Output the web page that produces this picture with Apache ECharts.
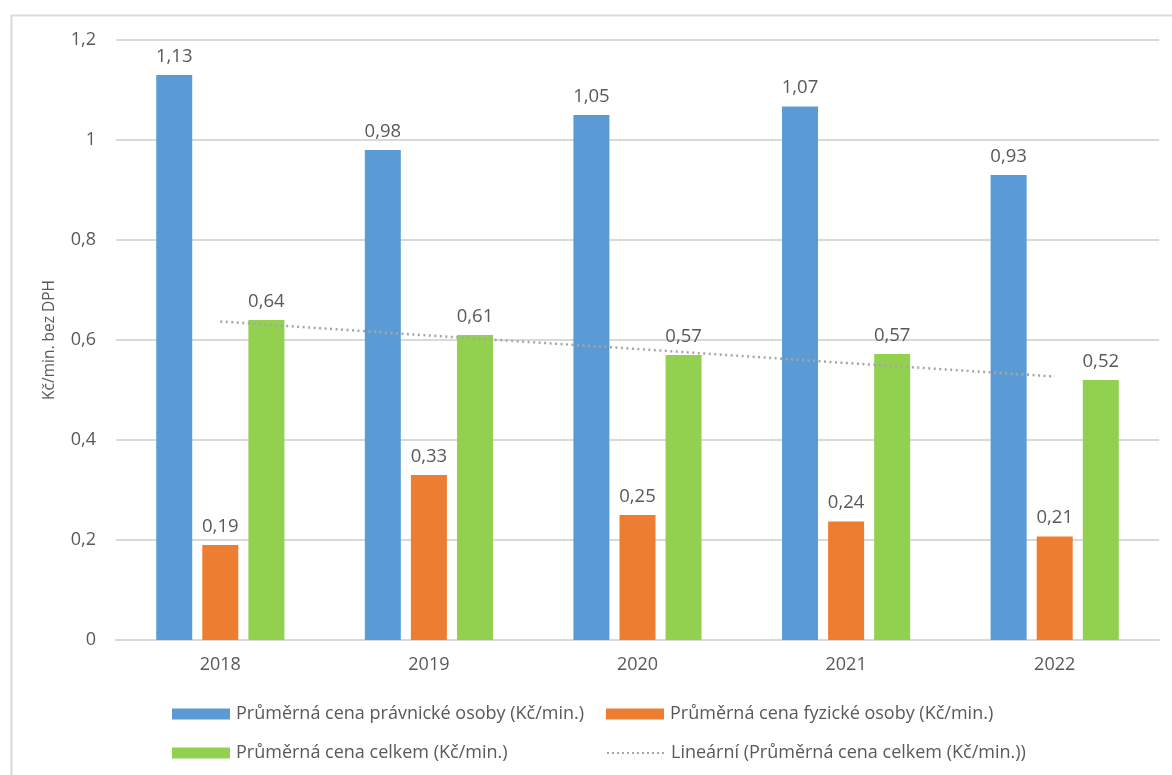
<!DOCTYPE html>
<html>
<head>
<meta charset="utf-8">
<script src="https://cdn.jsdelivr.net/npm/echarts@6/dist/echarts.min.js"></script>
<style>html,body{margin:0;padding:0;background:#fff;}#c{width:1172px;height:775px;}</style>
</head>
<body>
<div id="c"></div>
<script>
const categories = ['2018', '2019', '2020', '2021', '2022'];
const pravnicke = [1.13, 0.98, 1.05, 1.067, 0.93];
const fyzicke = [0.19, 0.33, 0.25, 0.237, 0.207];
const celkem = [0.64, 0.61, 0.57, 0.572, 0.52];
const trend = [0.637, 0.609, 0.582, 0.554, 0.527];
const seriesNames = [
  'Průměrná cena právnické osoby (Kč/min.)',
  'Průměrná cena fyzické osoby (Kč/min.)',
  'Průměrná cena celkem (Kč/min.)',
  'Lineární (Průměrná cena celkem (Kč/min.))'
];
const yTicks = [0, 0.2, 0.4, 0.6, 0.8, 1.0, 1.2];

const FONT = 'Open Sans';
const TXT = '#595959';
const fmt2 = v => v.toFixed(2).replace('.', ',');

const chart = echarts.init(document.getElementById('c'), null, {renderer: 'canvas'});
const barLabel = {
  show: true, position: 'top', distance: 9,
  color: TXT, fontFamily: FONT, fontSize: 18.5,
  formatter: p => fmt2(p.value)
};
function leg(name, left, top, extra) {
  return {
    left: left, top: top, orient: 'horizontal',
    itemWidth: 58, itemHeight: 11, itemGap: 0,
    padding: 0,
    data: [Object.assign({name: name}, extra)],
    textStyle: {color: TXT, fontFamily: FONT, fontSize: 18, padding: [0, 0, 0, 1]}
  };
}
chart.setOption({
  animation: false,
  textStyle: {fontFamily: FONT},
  grid: {left: 116, right: 13, top: 40, bottom: 135, containLabel: false},
  graphic: [{
    type: 'rect', silent: true, z: -1,
    shape: {x: 11.5, y: 15.5, width: 1200, height: 800},
    style: {fill: 'none', stroke: '#d9d9d9', lineWidth: 2}
  }],
  legend: [
    leg(seriesNames[0], 172, 705, {icon: 'rect'}),
    leg(seriesNames[2], 172, 744, {icon: 'rect'}),
    leg(seriesNames[1], 606, 705, {icon: 'rect'}),
    leg(seriesNames[3], 606, 744, {itemStyle: {opacity: 0}, lineStyle: {color: '#a6a6a6', width: 2, type: [2, 3]}})
  ],
  xAxis: {
    type: 'category', data: categories,
    axisLine: {lineStyle: {color: '#d9d9d9', width: 2}},
    axisTick: {show: false},
    axisLabel: {color: TXT, fontFamily: FONT, fontSize: 18, margin: 16}
  },
  yAxis: {
    type: 'value', min: 0, max: 1.2, interval: 0.2,
    name: 'Kč/min. bez DPH', nameLocation: 'middle', nameGap: 58,
    nameTextStyle: {color: TXT, fontFamily: FONT, fontSize: 15.5},
    axisLine: {show: false}, axisTick: {show: false},
    splitLine: {lineStyle: {color: '#d9d9d9', width: 2}},
    axisLabel: {
      color: TXT, fontFamily: FONT, fontSize: 18, margin: 20,
      formatter: v => {
        const t = yTicks.find(x => Math.abs(x - v) < 1e-9);
        const val = t === undefined ? v : t;
        return String(Math.round(val * 10) / 10).replace('.', ',');
      }
    }
  },
  series: [{
    name: seriesNames[0], type: 'bar', data: pravnicke,
    barWidth: 36, barGap: '28%',
    itemStyle: {color: '#5b9bd5'}, label: barLabel
  }, {
    name: seriesNames[1], type: 'bar', data: fyzicke,
    barWidth: 36, barGap: '28%',
    itemStyle: {color: '#ed7d31'}, label: barLabel
  }, {
    name: seriesNames[2], type: 'bar', data: celkem,
    barWidth: 36, barGap: '28%',
    itemStyle: {color: '#92d050'}, label: barLabel
  }, {
    name: seriesNames[3], type: 'line', data: trend,
    symbol: 'none', z: 5,
    lineStyle: {color: '#a6a6a6', width: 2.5, type: [2, 3.5]},
    itemStyle: {color: '#a6a6a6'}
  }]
});
</script>
</body>
</html>
